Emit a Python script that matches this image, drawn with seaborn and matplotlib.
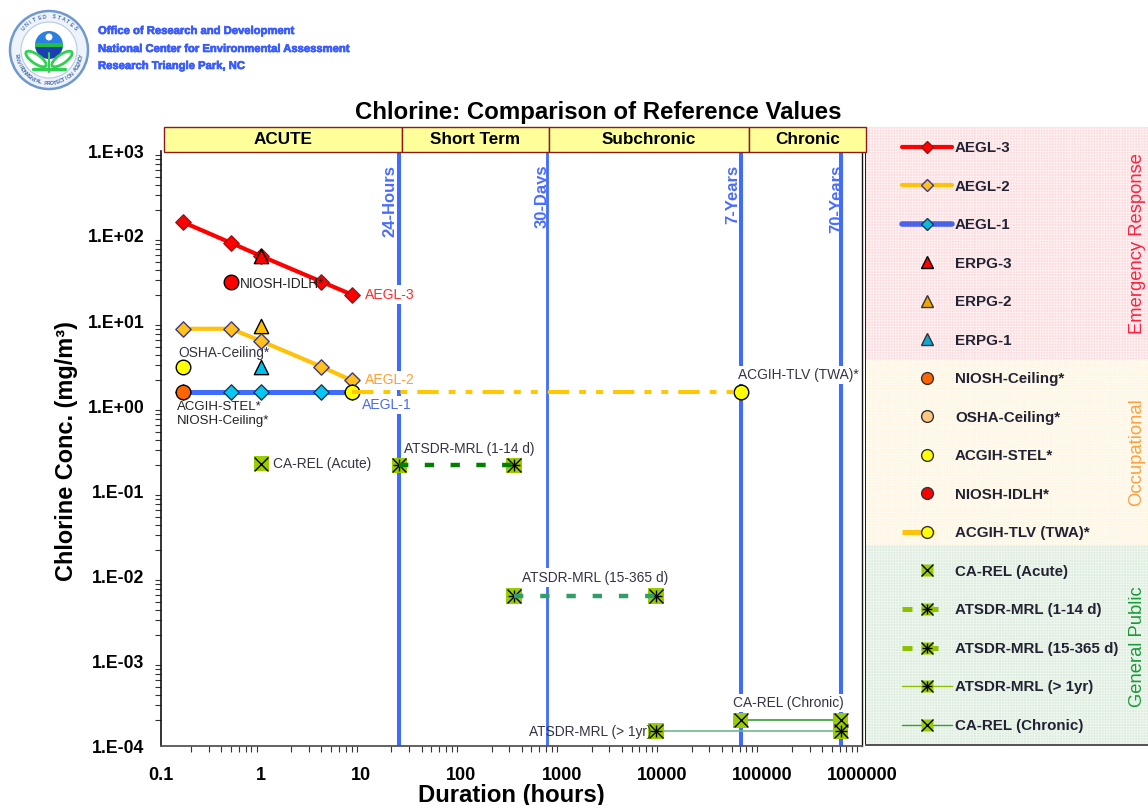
import numpy as np
import pandas as pd
import seaborn as sns
import matplotlib
matplotlib.use("Agg")
import matplotlib.pyplot as plt
import matplotlib.patheffects as pe
from matplotlib.lines import Line2D
from matplotlib.patches import Rectangle, Circle, Wedge, Ellipse
from matplotlib.ticker import LogLocator, NullFormatter, FixedLocator, FixedFormatter

# data (hours, mg/m3)
aegl_hours = [0.167, 0.5, 1, 4, 8]
aegl3 = [145, 83, 58, 29, 20.5]
aegl2 = [8.1, 8.1, 5.8, 2.9, 2.0]
aegl1 = [1.45, 1.45, 1.45, 1.45, 1.45]

tlv_hours = [8, 61320]
tlv = [1.45, 1.45]
mrl_acute_hours = [24, 336]
mrl_acute = [0.2, 0.2]
mrl_inter_hours = [336, 8760]
mrl_inter = [0.0058, 0.0058]
mrl_chronic_hours = [8760, 613200]
mrl_chronic = [0.00015, 0.00015]
rel_chronic_hours = [61320, 613200]
rel_chronic = [0.0002, 0.0002]

time_lines = [24, 720, 61320, 613200]
time_names = ["24-Hours", "30-Days", "7-Years", "70-Years"]

x_ticks = [0.1, 1, 10, 100, 1000, 10000, 100000, 1000000]
x_labels = ["0.1", "1", "10", "100", "1000", "10000", "100000", "1000000"]
y_ticks = [1e-4, 1e-3, 1e-2, 1e-1, 1, 10, 100, 1000]
y_labels = ["1.E-04", "1.E-03", "1.E-02", "1.E-01", "1.E+00", "1.E+01", "1.E+02", "1.E+03"]

W, H = 1148, 805
sns.set_theme(style="white")
plt.rcParams["font.family"] = ["Liberation Sans", "DejaVu Sans"]
plt.rcParams["hatch.linewidth"] = 0.6

fig = plt.figure(figsize=(W / 100, H / 100), dpi=100, facecolor="white")


def px_box(x0, y0, x1, y1):
    return [x0 / W, 1 - y1 / H, (x1 - x0) / W, (y1 - y0) / H]


def fig_rect(x0, y0, x1, y1, **kw):
    b = px_box(x0, y0, x1, y1)
    fig.add_artist(Rectangle((b[0], b[1]), b[2], b[3], transform=fig.transFigure, **kw))


def fig_text(x, y, s, **kw):
    return fig.text(x / W, 1 - y / H, s, **kw)


# legend panel
fig_rect(866, 127, 1148, 360, facecolor="#fbdde0", edgecolor="#fff1f1", hatch="++++++", lw=0)
fig_rect(866, 360, 1148, 545, facecolor="#fef6e2", edgecolor="#fffbf0", hatch="++++++", lw=0)
fig_rect(866, 545, 1148, 745, facecolor="#deeddf", edgecolor="#eef7ee", hatch="++++++", lw=0)
fig_rect(865, 127, 866.3, 745, facecolor="#222222", lw=0)
fig_rect(865, 743.5, 1148, 745.5, facecolor="#555555", lw=0)

# main axes
ax = fig.add_axes(px_box(161, 151, 862, 746))
ax.set_xscale("log")
ax.set_yscale("log")
ax.set_xlim(0.1, 1e6)
ax.set_ylim(1e-4, 1e3)
ax.patch.set_alpha(0)

for h in time_lines:
    ax.axvline(h, color="#3f6bff", lw=2.0 if h == 720 else 2.9, zorder=1)


def line(xs, ys, color, lw, dashes=None, z=3):
    d = pd.DataFrame({"hours": xs, "conc": ys})
    sns.lineplot(data=d, x="hours", y="conc", color=color, lw=lw, ax=ax, zorder=z,
                 estimator=None, sort=False, errorbar=None)
    if dashes is not None:
        ax.lines[-1].set_dashes(dashes)
    ax.lines[-1].set_dash_capstyle("butt")


def marks(xs, ys, marker, size, face, edge="black", ew=1.0, z=5):
    d = pd.DataFrame({"hours": xs, "conc": ys})
    sns.scatterplot(data=d, x="hours", y="conc", marker=marker, s=size ** 2, color=face,
                    edgecolor=edge, linewidth=ew, ax=ax, zorder=z, legend=False)


line(aegl_hours, aegl3, "#ff0000", 3.0)
line(aegl_hours, aegl2, "#ffc20a", 3.0)
line(aegl_hours, aegl1, "#3f6bff", 3.6)
marks(aegl_hours, aegl3, "D", 7.8, "#ff0000", "#a01010")
marks(aegl_hours, aegl2, "D", 7.8, "#ffc020", "#3a3a90")
marks(aegl_hours, aegl1, "D", 7.8, "#00c8f8", "#104050")

marks([1], [58], "^", 10.3, "#ff0000", z=6)
marks([1], [8.7], "^", 10.3, "#ffc000", z=4)
marks([1], [2.9], "^", 10.3, "#00c0f0", z=4)

marks([0.5], [29], "o", 10.5, "#ff0000")
marks([0.167], [2.9], "o", 10.5, "#ffff00")
marks([0.167], [1.45], "o", 10.5, "#ff6600", z=6)
marks([8], [1.45], "o", 10.5, "#ffff00", z=6)

line(tlv_hours, tlv, "#ffc800", 2.9, dashes=(5.3, 2.5, 1.7, 2.5, 1.7, 2.5), z=7)
marks(tlv_hours[1:], tlv[1:], "o", 10.5, "#ffff00", z=6)

GREEN = "#9acd00"
line(mrl_acute_hours, mrl_acute, "#008000", 3.2, dashes=(2.1, 3.7), z=7)
line(mrl_inter_hours, mrl_inter, "#2f9e6a", 3.2, dashes=(2.1, 3.8), z=7)
line(mrl_chronic_hours, mrl_chronic, "#70b890", 1.2)
line(rel_chronic_hours, rel_chronic, "#35a035", 1.2)

marks([1], [0.21], "s", 11, GREEN, edge="none", ew=0)
marks([1], [0.21], "x", 10, "black", edge="black", ew=1, z=6)
for xs, ys in [(mrl_acute_hours, mrl_acute), (mrl_inter_hours, mrl_inter),
               (mrl_chronic_hours, mrl_chronic), (rel_chronic_hours, rel_chronic)]:
    marks(xs, ys, "s", 11, GREEN, edge="none", ew=0)
    marks(xs, ys, "x", 10, "black", edge="black", ew=1, z=6)
for xs, ys in [(mrl_acute_hours, mrl_acute), (mrl_inter_hours, mrl_inter),
               (mrl_chronic_hours, mrl_chronic)]:
    marks(xs, ys, "+", 9, "black", edge="black", ew=1, z=6)

# vertical time labels
for h, name, dx in zip(time_lines, time_names, [-9, -5, -8, -4]):
    ax.annotate(name, (h, 1e3), xytext=(dx, -14), textcoords="offset pixels",
                color="#4a6cff", fontsize=12, fontweight="bold", rotation=90,
                ha="center", va="top", zorder=2, annotation_clip=False)


# point labels
def plabel(x, y, s, color="#333344", size=9.9, white=False):
    kw = {}
    if white:
        kw["bbox"] = dict(facecolor="white", edgecolor="none", pad=1.5)
    ax.text(x, y, s, color=color, fontsize=size, ha="left", va="center", zorder=9, **kw)


plabel(0.62, 27.5, "NIOSH-IDLH*", color="#222222")
plabel(0.148, 4.2, "OSHA-Ceiling*")
plabel(0.145, 0.97, "ACGIH-STEL*", color="#222222", size=9.5)
plabel(0.145, 0.67, "NIOSH-Ceiling*", color="#222222", size=9.5)
plabel(11.0, 20.5, "AEGL-3", color="#ff2a2a", size=10.1, white=True)
plabel(11.0, 2.0, "AEGL-2", color="#ffa030", size=10.1, white=True)
plabel(10.2, 1.03, "AEGL-1", color="#4a6cf0", size=10.1, white=True)
plabel(1.32, 0.21, "CA-REL (Acute)")
plabel(27, 0.31, "ATSDR-MRL (1-14 d)", white=True)
plabel(398, 0.0096, "ATSDR-MRL (15-365 d)", white=True)
plabel(58000, 2.32, "ACGIH-TLV (TWA)*", white=True)
plabel(52000, 0.00032, "CA-REL (Chronic)", white=True)
plabel(471, 0.000148, "ATSDR-MRL (> 1yr)")

# axes and ticks
sns.despine(ax=ax, top=True, right=False)
ax.spines["left"].set_color("#111111")
ax.spines["left"].set_linewidth(1.2)
ax.spines["right"].set_color("#111111")
ax.spines["right"].set_linewidth(1.0)
ax.spines["bottom"].set_color("#555555")
ax.spines["bottom"].set_linewidth(1.3)
ax.xaxis.set_major_locator(FixedLocator(x_ticks))
ax.xaxis.set_major_formatter(FixedFormatter(x_labels))
ax.yaxis.set_major_locator(FixedLocator(y_ticks))
ax.yaxis.set_major_formatter(FixedFormatter(y_labels))
for axis in (ax.xaxis, ax.yaxis):
    axis.set_minor_locator(LogLocator(base=10, subs=np.arange(2, 10), numticks=12))
    axis.set_minor_formatter(NullFormatter())
ax.tick_params(which="major", direction="inout", length=12, width=1.0, color="#222222",
               labelsize=13)
ax.tick_params(which="minor", direction="out", length=4, width=0.8, color="#333333",
               bottom=True, left=True)
for t in ax.get_xticklabels() + ax.get_yticklabels():
    t.set_fontweight("bold")
    t.set_color("black")
ax.tick_params(axis="y", pad=6, labelsize=12.7)
ax.tick_params(axis="x", pad=9)
ax.set_xlabel("")
ax.set_ylabel("")

fig_text(511, 795, "Duration (hours)", fontsize=17.2, fontweight="bold", ha="center", va="center", color="black")
fig_text(66, 451, "Chlorine Conc. (mg/m³)", fontsize=16.9, fontweight="bold", rotation=90,
         ha="center", va="center", color="black")
fig_text(598, 112, "Chlorine: Comparison of Reference Values", fontsize=17.3, fontweight="bold",
         ha="center", va="center", color="black")

# period band
band_edges = [164, 402, 549, 749, 866]
band_names = ["ACUTE", "Short Term", "Subchronic", "Chronic"]
for left, right, name in zip(band_edges[:-1], band_edges[1:], band_names):
    fig_rect(left, 127, right, 152.5, facecolor="#ffff99", edgecolor="#8b1a1a", lw=1.0, zorder=5)
    fig_text((left + right) / 2, 139.5, name, fontsize=12.3, fontweight="bold", ha="center",
             va="center", color="black", zorder=6)


# legend
def h_line(color, lw, marker, face, ms=7, mec="#333333", dashes=None):
    kw = {}
    if dashes is not None:
        kw["dashes"] = dashes
    return Line2D([0], [0], color=color, lw=lw, marker=marker, markerfacecolor=face, ms=ms,
                  markeredgecolor=mec, dash_capstyle="butt", **kw)


def h_mark(marker, face, ms=8.5, mec="#333333"):
    return Line2D([0], [0], color="none", marker=marker, markerfacecolor=face, ms=ms, markeredgecolor=mec)


def h_green(color, lw, dashes=None, star=True):
    parts = []
    if color is not None:
        kw = {"dashes": dashes} if dashes is not None else {}
        parts.append(Line2D([0], [0], color=color, lw=lw, dash_capstyle="butt", **kw))
    parts.append(Line2D([0], [0], color="none", marker="s", markerfacecolor=GREEN, ms=8.5, markeredgecolor="none"))
    parts.append(Line2D([0], [0], color="none", marker="x", ms=8, markeredgecolor="black", markeredgewidth=1))
    if star:
        parts.append(Line2D([0], [0], color="none", marker="+", ms=7.5, markeredgecolor="black", markeredgewidth=1))
    return tuple(parts)


handles = [
    h_line("#ff0000", 3, "D", "#ff0000", ms=6, mec="#a01010"),
    h_line("#ffc20a", 3, "D", "#ffc020", ms=6, mec="#3a3a90"),
    h_line("#4a62e8", 4, "D", "#10b8e0", ms=6, mec="#104050"),
    h_mark("^", "#ff0000", mec="black"),
    h_mark("^", "#f0a800"),
    h_mark("^", "#10a8d8"),
    h_mark("o", "#ff6600"),
    h_mark("o", "#ffc880"),
    h_mark("o", "#ffff00"),
    h_mark("o", "#ff0000"),
    h_line("#ffc20a", 3.6, "o", "#ffff00", ms=8.5, dashes=(6.4, 10)),
    h_green(None, 0, star=False),
    h_green("#8fc000", 3.6, dashes=(2, 1.8, 3.4, 6)),
    h_green("#8fc000", 3.6, dashes=(2, 1.8, 3.4, 6)),
    h_green("#8fc000", 1.0),
    h_green("#35a035", 1.0, star=False),
]
labels = ["AEGL-3", "AEGL-2", "AEGL-1", "ERPG-3", "ERPG-2", "ERPG-1", "NIOSH-Ceiling*", "OSHA-Ceiling*",
          "ACGIH-STEL*", "NIOSH-IDLH*", "ACGIH-TLV (TWA)*", "CA-REL (Acute)", "ATSDR-MRL (1-14 d)",
          "ATSDR-MRL (15-365 d)", "ATSDR-MRL (> 1yr)", "CA-REL (Chronic)"]
leg = fig.legend(handles, labels, loc="upper left", bbox_to_anchor=(902 / W, 1 - 141 / H), frameon=False,
                 handlelength=3.3, handletextpad=0.2, labelspacing=1.62, borderpad=0, borderaxespad=0,
                 prop={"family": "Liberation Sans", "weight": "bold", "size": 10.9})
for t in leg.get_texts():
    t.set_color("#222233")

fig_text(1137, 243, "Emergency Response", color="#ff2040", fontsize=13.2, rotation=90, ha="center", va="center")
fig_text(1137, 452, "Occupational", color="#ffa040", fontsize=13.3, rotation=90, ha="center", va="center")
fig_text(1137, 647, "General Public", color="#1a9a3a", fontsize=13.2, rotation=90, ha="center", va="center")

# header
for y, s in zip([31, 49, 66], ["Office of Research and Development", "National Center for Environmental Assessment",
                               "Research Triangle Park, NC"]):
    t = fig_text(98, y, s, color="#3a5cff", fontsize=8.1, fontweight="bold", va="center", ha="left")
    t.set_path_effects([pe.withStroke(linewidth=0.5, foreground="#3a5cff")])

# seal
logo = fig.add_axes(px_box(6, 7, 92, 93))
logo.set_xlim(-43, 43)
logo.set_ylim(-43, 43)
logo.axis("off")
logo.add_patch(Circle((0, 0), 39, facecolor="#eef3fb", edgecolor="#6f98d0", lw=1.8))
logo.add_patch(Circle((0, 0), 28, facecolor="white", edgecolor="#b5cae6", lw=0.8))
logo.add_patch(Wedge((0, 5), 14, 0, 180, facecolor="#2a80e0", lw=0))
logo.add_patch(Wedge((0, 5), 14, 180, 360, facecolor="#1c3fb0", lw=0))
logo.add_patch(Rectangle((-14, 3), 28, 3.5, facecolor="#20c040", lw=0))
logo.add_patch(Circle((0, 13), 3.5, facecolor="white", lw=0))
logo.add_patch(Ellipse((-13, -9), 24, 9, angle=-35, facecolor="white", edgecolor="#30d050", lw=2))
logo.add_patch(Ellipse((13, -9), 24, 9, angle=35, facecolor="white", edgecolor="#30d050", lw=2))
logo.plot([0, 0], [-22, -3], color="#30d050", lw=1.5)
logo.plot([-16, 16], [-19, -19], color="#30d050", lw=2.4)


def ring_text(s, start, stop, r):
    angles = np.linspace(start, stop, len(s))
    for ch, a in zip(s, angles):
        rad = np.deg2rad(a)
        rot = a - 90 if np.sin(rad) >= 0 else a + 90
        logo.text(r * np.cos(rad), r * np.sin(rad), ch, fontsize=3.8, fontweight="bold", color="#4a6ea8",
                  rotation=rot, ha="center", va="center")


ring_text("UNITED STATES", 140, 40, 33.5)
ring_text("ENVIRONMENTAL PROTECTION AGENCY", 190, 350, 33.5)

plt.savefig("out.png", dpi=100)
